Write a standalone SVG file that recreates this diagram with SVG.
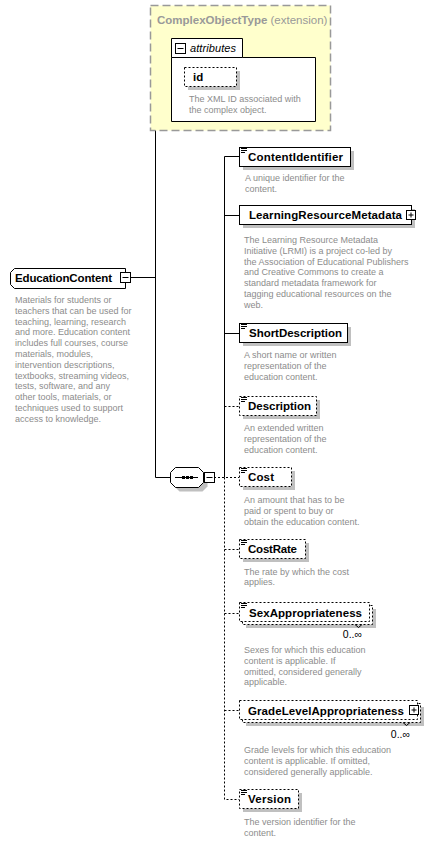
<svg xmlns="http://www.w3.org/2000/svg" width="448" height="843" viewBox="0 0 448 843">
<style>
.box{fill:#fff;stroke:#000;stroke-width:1}
.dbox{fill:#fff;stroke:#000;stroke-width:1;stroke-dasharray:2,2}
.sh{fill:#c0c0c0}
.t{font-family:"Liberation Sans",Arial,sans-serif;font-weight:bold;font-size:11.5px;fill:#000}
.d{font-family:"Liberation Sans",Arial,sans-serif;font-size:9px;fill:#8c8c8c}
.m{font-family:"Liberation Sans",Arial,sans-serif;font-size:10.5px;fill:#000}
.ln{stroke:#000;stroke-width:1;fill:none}
.dl{stroke:#000;stroke-width:1;fill:none;stroke-dasharray:2,2}
</style>
<defs>
<g id="doc"><path d="M0,0.5h6M0,2.5h6M0,4.5h4" stroke="#000" stroke-width="1"/></g>
<g id="plus"><rect x="0.5" y="0.5" width="9" height="9" fill="#fff" stroke="#000"/><path d="M2.5,5h5M5,2.5v5" stroke="#000" stroke-width="1"/></g>
<g id="minus"><rect x="0.5" y="0.5" width="10" height="10" fill="#fff" stroke="#000"/><path d="M2.5,5.5h6" stroke="#000" stroke-width="1"/></g>
</defs>

<g id="connectors">
<path class="ln" d="M130,277.5H155.5M155.5,80.5V477.5M155.5,80.5H171M155.5,477.5H171"/>
<path class="ln" d="M224.5,156.5V477.5M224.5,156.5H239M224.5,215.5H239M224.5,333.5H239"/>
<path class="dl" d="M224.5,406.5H239M214,477.5H239M224.5,477.5V799.5H239M224.5,549.5H239M224.5,613.5H239M224.5,710.5H239"/>
</g>

<g id="ComplexObjectType">
<rect x="150.5" y="5.5" width="180" height="125" fill="#ffffcc" stroke="#999" stroke-width="1.5" stroke-dasharray="8,4"/>
<text x="157" y="24" font-family="Liberation Sans,Arial,sans-serif" font-size="11.5px" fill="#999"><tspan font-weight="bold">ComplexObjectType</tspan> (extension)</text>
</g>

<g id="attributes">
<path d="M171.5,57.5V38.5H242.5V57.5H315.5V121.5H171.5Z" fill="#fff" stroke="#000"/>
<path d="M171.5,57.5H242.5" stroke="#000"/>
<use href="#minus" x="175" y="43"/>
<text x="190" y="52" font-family="Liberation Sans,Arial,sans-serif" font-size="11px" font-style="italic" fill="#000" textLength="46">attributes</text>
</g>

<g id="id">
<rect class="sh" x="188" y="71" width="52" height="19"/>
<rect class="dbox" x="184.5" y="67.5" width="52" height="19"/>
<text class="t" x="193" y="81">id</text>
<text class="d" x="189" y="102">The XML ID associated with</text>
<text class="d" x="189" y="113">the complex object.</text>
</g>

<g id="EducationContent">
<polygon class="box" points="14.5,268.5 125.5,268.5 125.5,288.5 14.5,288.5 10.5,284.5 10.5,272.5"/>
<use href="#minus" x="120" y="272"/>
<text class="t" x="15" y="282" textLength="97">EducationContent</text>
<text class="d" x="15" y="303">Materials for students or</text>
<text class="d" x="15" y="313.8">teachers that can be used for</text>
<text class="d" x="15" y="324.6">teaching, learning, research</text>
<text class="d" x="15" y="335.4">and more. Education content</text>
<text class="d" x="15" y="346.2">includes full courses, course</text>
<text class="d" x="15" y="357">materials, modules,</text>
<text class="d" x="15" y="367.8">intervention descriptions,</text>
<text class="d" x="15" y="378.6">textbooks, streaming videos,</text>
<text class="d" x="15" y="389.4">tests, software, and any</text>
<text class="d" x="15" y="400.2">other tools, materials, or</text>
<text class="d" x="15" y="411">techniques used to support</text>
<text class="d" x="15" y="421.8">access to knowledge.</text>
</g>

<g id="sequence">
<polygon class="sh" points="179.5,471.5 202.5,471.5 207.5,476.5 207.5,486.5 202.5,491.5 179.5,491.5 174.5,486.5 174.5,476.5"/>
<polygon class="box" points="175.5,467.5 198.5,467.5 203.5,472.5 203.5,482.5 198.5,487.5 175.5,487.5 170.5,482.5 170.5,472.5"/>
<path d="M175,477.5H198" stroke="#000"/>
<rect x="182" y="476" width="3" height="3" fill="#000"/>
<rect x="186" y="476" width="3" height="3" fill="#000"/>
<rect x="190" y="476" width="3" height="3" fill="#000"/>
<use href="#minus" x="204" y="472"/>
</g>

<g id="ContentIdentifier">
<rect class="sh" x="243" y="151" width="111" height="19"/>
<rect class="box" x="239.5" y="147.5" width="111" height="19"/>
<use href="#doc" x="241" y="148"/>
<text class="t" x="248" y="161" textLength="95">ContentIdentifier</text>
<text class="d" x="245" y="181">A unique identifier for the</text>
<text class="d" x="245" y="192">content.</text>
</g>

<g id="LearningResourceMetadata">
<rect class="sh" x="243" y="209" width="172" height="19"/>
<rect class="box" x="239.5" y="205.5" width="172" height="19"/>
<use href="#plus" x="406" y="210"/>
<text class="t" x="249" y="219" textLength="153">LearningResourceMetadata</text>
<text class="d" x="244" y="243">The Learning Resource Metadata</text>
<text class="d" x="244" y="253.8">Initiative (LRMI) is a project co-led by</text>
<text class="d" x="244" y="264.6">the Association of Educational Publishers</text>
<text class="d" x="244" y="275.4">and Creative Commons to create a</text>
<text class="d" x="244" y="286.2">standard metadata framework for</text>
<text class="d" x="244" y="297">tagging educational resources on the</text>
<text class="d" x="244" y="307.8">web.</text>
</g>

<g id="ShortDescription">
<rect class="sh" x="243" y="327" width="108" height="19"/>
<rect class="box" x="239.5" y="323.5" width="108" height="19"/>
<use href="#doc" x="241" y="324"/>
<text class="t" x="249" y="337" textLength="93">ShortDescription</text>
<text class="d" x="244" y="358">A short name or written</text>
<text class="d" x="244" y="369">representation of the</text>
<text class="d" x="244" y="379.8">education content.</text>
</g>

<g id="Description">
<rect class="sh" x="243" y="400" width="77" height="19"/>
<rect class="dbox" x="239.5" y="396.5" width="77" height="19"/>
<use href="#doc" x="241" y="397"/>
<text class="t" x="248" y="410" textLength="63">Description</text>
<text class="d" x="244" y="431">An extended written</text>
<text class="d" x="244" y="441.8">representation of the</text>
<text class="d" x="244" y="452.6">education content.</text>
</g>

<g id="Cost">
<rect class="sh" x="243" y="471" width="52" height="19"/>
<rect class="dbox" x="239.5" y="467.5" width="52" height="19"/>
<use href="#doc" x="241" y="468"/>
<text class="t" x="248" y="481" textLength="26">Cost</text>
<text class="d" x="244" y="503">An amount that has to be</text>
<text class="d" x="244" y="513.8">paid or spent to buy or</text>
<text class="d" x="244" y="524.6">obtain the education content.</text>
</g>

<g id="CostRate">
<rect class="sh" x="243" y="543" width="66" height="19"/>
<rect class="dbox" x="239.5" y="539.5" width="66" height="19"/>
<use href="#doc" x="241" y="540"/>
<text class="t" x="248" y="553" textLength="49">CostRate</text>
<text class="d" x="244" y="574.5">The rate by which the cost</text>
<text class="d" x="244" y="585.3">applies.</text>
</g>

<g id="SexAppropriateness">
<rect class="sh" x="246" y="609" width="130" height="19"/>
<rect class="dbox" x="242.5" y="605.5" width="130" height="19"/>
<rect class="dbox" x="239.5" y="602.5" width="130" height="19"/>
<use href="#doc" x="241" y="603"/>
<path class="ln" d="M355,624.5l3.5,3l3.5,-3"/>
<text class="t" x="249" y="616.5" textLength="113">SexAppropriateness</text>
<text class="m" x="362" y="637.5" text-anchor="end">0..∞</text>
<text class="d" x="244" y="653">Sexes for which this education</text>
<text class="d" x="244" y="663.8">content is applicable. If</text>
<text class="d" x="244" y="674.6">omitted, considered generally</text>
<text class="d" x="244" y="685.4">applicable.</text>
</g>

<g id="GradeLevelAppropriateness">
<rect class="sh" x="246" y="707" width="178" height="19"/>
<rect class="dbox" x="242.5" y="703.5" width="178" height="19"/>
<rect class="dbox" x="239.5" y="700.5" width="178" height="19"/>
<use href="#plus" x="409" y="705"/>
<path class="ln" d="M403,722.5l3.5,3l3.5,-3"/>
<text class="t" x="248" y="714.5" textLength="156">GradeLevelAppropriateness</text>
<text class="m" x="410" y="738" text-anchor="end">0..∞</text>
<text class="d" x="244" y="753">Grade levels for which this education</text>
<text class="d" x="244" y="763.8">content is applicable. If omitted,</text>
<text class="d" x="244" y="774.6">considered generally applicable.</text>
</g>

<g id="Version">
<rect class="sh" x="243" y="793" width="59" height="19"/>
<rect class="dbox" x="239.5" y="789.5" width="59" height="19"/>
<use href="#doc" x="241" y="790"/>
<text class="t" x="248" y="803" textLength="43">Version</text>
<text class="d" x="244" y="824.5">The version identifier for the</text>
<text class="d" x="244" y="835.5">content.</text>
</g>
</svg>
